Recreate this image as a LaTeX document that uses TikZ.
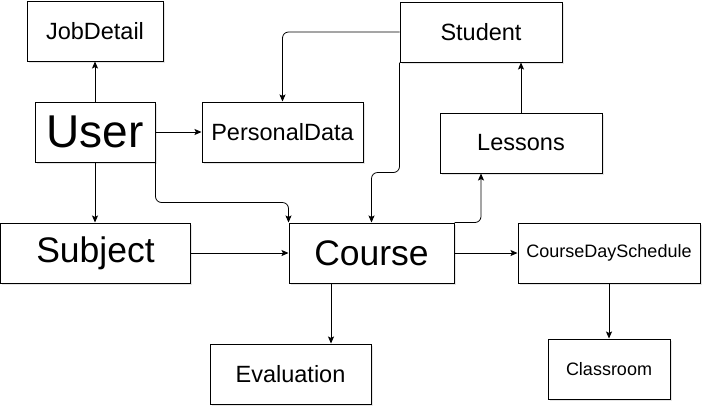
\documentclass[tikz,border=0pt]{standalone}
\usepackage{fontspec}
\setmainfont{Liberation Sans}
\usetikzlibrary{arrows.meta,calc,shadows}

\begin{document}
\begin{tikzpicture}[x=1pt,y=-1pt,
	box/.style={draw,line width=1pt,fill=white,inner sep=0pt,minimum height=60pt,
		drop shadow={shadow xshift=1.5pt,shadow yshift=-1.5pt,opacity=.2}},
	huge/.style={font=\fontsize{46}{50}\selectfont},
	large/.style={font=\fontsize{35.5}{40}\selectfont},
	medium/.style={font=\fontsize{23.5}{28}\selectfont},
	small/.style={font=\fontsize{18}{22}\selectfont},
	link/.style={line width=0.8pt,rounded corners=6pt,-{Stealth[length=7pt,width=6pt,inset=1.5pt]}}]
	
	\useasboundingbox (0,0) rectangle (708,416);
	
	% Upper boxes
	\node[box,medium,minimum width=136pt] (JobDetail) at (95,31) {JobDetail};
	\node[box,huge,minimum width=120pt] (User) at (95,132) {User};
	\node[box,medium,minimum width=161pt] (PersonalData) at (282.5,132) {PersonalData};
	\node[box,medium,minimum width=162pt] (Student) at (481,32) {Student};
	\node[box,medium,minimum width=162pt] (Lessons) at (521,143) {Lessons};
	
	% Middle row
	\node[box,large,minimum width=190pt] (Subject) at (95.5,253) {Subject};
	\node[box,large,minimum width=165pt] (Course) at (371.5,253) {Course};
	\node[box,small,minimum width=182pt] (CourseDaySchedule) at (609,253) {CourseDaySchedule};
	
	% Lower boxes
	\node[box,medium,minimum width=161pt] (Evaluation) at (290.5,374) {Evaluation};
	\node[box,small,minimum width=122pt] (Classroom) at (609,369) {Classroom};
	
	% Links from User
	\draw[link] (User.north) -- (JobDetail.south);
	\draw[link] (User.south) -- (User.south |- Subject.north);
	\draw[link] (User.east) -- (PersonalData.west);
	\draw[link] (User.south east) -- ++(0,40) -| (Course.north west);
	
	% Links from Student
	\draw[link] (Student.west) -| (PersonalData.north);
	\draw[link] (Student.south west) -- ++(0,110) -| (Course.north);
	
	% Lessons
	\draw[link] (Course.north east) -| (Student.south |- Lessons.south);
	\draw[link] (Lessons.north) -- (Lessons.north |- Student.south);
	
	% Course row
	\draw[link] (Subject.east) -- (Course.west);
	\draw[link] (Course.east) -- (CourseDaySchedule.west);
	\coordinate (ev) at ($(Course.south)!.5!(Evaluation.north)$);
	\draw[link] (ev |- Course.south) -- (ev |- Evaluation.north);
	\draw[link] (CourseDaySchedule.south) -- (Classroom.north);
\end{tikzpicture}
\end{document}
